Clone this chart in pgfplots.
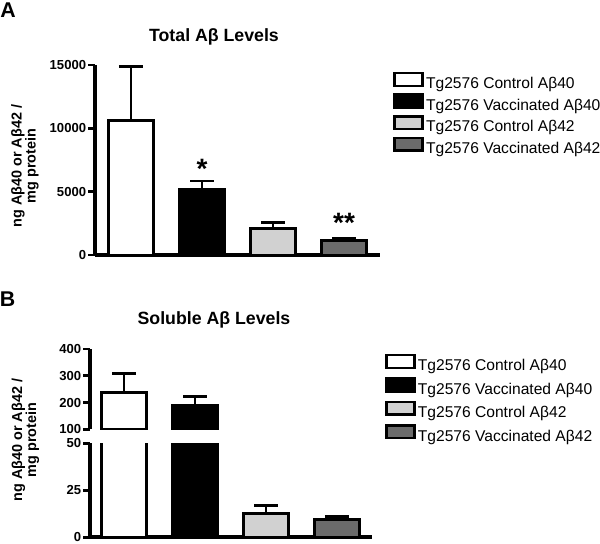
\documentclass[border=0pt]{standalone}
\usepackage{pgfplots}
\pgfplotsset{compat=1.18}
\usepackage{fontspec}
\setmainfont{Liberation Sans}

\definecolor{lightbar}{gray}{0.82}
\definecolor{darkbar}{gray}{0.42}

\pgfplotsset{
  panel/.style={
    scale only axis,
    axis x line=bottom,
    axis y line=left,
    axis line style={-, line width=2.8pt},
    xtick=\empty,
    tick align=outside,
    major tick length=5pt,
    ytick style={black, line width=2.2pt},
    yticklabel style={font=\bfseries\fontsize{9.8}{10}\selectfont, inner sep=1.5pt},
    /pgf/number format/assume math mode=true,
    scaled y ticks=false,
    /pgf/number format/1000 sep={},
    ybar, bar width=0.64,
    every axis plot/.append style={bar shift=0pt, line width=2.2pt, draw=black},
    error bars/y dir=plus, error bars/y explicit,
    error bars/error bar style={line width=2.2pt, black},
    error bars/error mark options={rotate=90, line width=2.2pt, black, mark size=9pt},
    legend image code/.code={\draw[##1, line width=2pt] (0pt,-0.8pt) rectangle (21pt,8.8pt);},
    legend cell align=left,
  },
  legbox/.style={
    draw=none, fill=none, inner sep=0pt,
    font=\fontsize{11.7}{12}\selectfont,
    nodes={inner sep=1.5pt, text height=8.5pt, text depth=2.5pt},
  },
}

\begin{document}
\begin{tikzpicture}
\useasboundingbox (0,0) rectangle (450pt,407.25pt);

% ---------- panel A ----------
\node[font=\bfseries\fontsize{16}{16}\selectfont] at (6pt,399.75pt) {A};
\node[font=\bfseries\fontsize{13.3}{14}\selectfont] at (160.5pt,379.5pt) {Total Aβ Levels};
\node[rotate=90, align=center, font=\bfseries\fontsize{10.8}{10.5}\selectfont]
  at (18.75pt,282.75pt) {ng Aβ40 or Aβ42 /\\mg protein};

\begin{axis}[panel,
  at={(71.25pt,216pt)}, anchor=south west,
  width=213.75pt, height=142.5pt,
  xmin=0.493, xmax=4.507,
  ymin=0, ymax=15000,
  ytick={0,5000,10000,15000},
  legend style={legbox, at={(axis description cs:1.046,0.966)}, anchor=north west, row sep=-0.6pt},
]
\addplot[fill=white]    coordinates {(1,10650) +- (0,4220)};
\addplot[fill=black]    coordinates {(2,5200)  +- (0,640)};
\addplot[fill=lightbar] coordinates {(3,2120)  +- (0,430)};
\addplot[fill=darkbar]  coordinates {(4,1180)  +- (0,160)};
\legend{Tg2576 Control Aβ40, Tg2576 Vaccinated Aβ40, Tg2576 Control Aβ42, Tg2576 Vaccinated Aβ42}
\node[anchor=north, inner sep=0pt, font=\bfseries\fontsize{21}{21}\selectfont] at (axis cs:2,7580) {*};
\node[anchor=north, inner sep=0pt, font=\bfseries\fontsize{21}{21}\selectfont] at (axis cs:4,3290) {**};
\end{axis}

% ---------- panel B ----------
\node[font=\bfseries\fontsize{16}{16}\selectfont] at (5.6pt,182.6pt) {B};
\node[font=\bfseries\fontsize{13.3}{14}\selectfont] at (160.5pt,167.25pt) {Soluble Aβ Levels};
\node[rotate=90, align=center, font=\bfseries\fontsize{10.8}{10.5}\selectfont]
  at (19.1pt,77.25pt) {ng Aβ40 or Aβ42 /\\mg protein};

% upper segment (100-400)
\begin{axis}[panel,
  at={(67.5pt,85.275pt)}, anchor=south west,
  width=211.5pt, height=60.2pt,
  axis x line=none,
  xmin=0.521, xmax=4.493,
  ymin=100, ymax=400,
  ytick={100,200,300,400},
]
\addplot[fill=white] coordinates {(1,237) +- (0,71)};
\addplot[fill=black] coordinates {(2,189) +- (0,33)};
\end{axis}

% lower segment (0-50)
\begin{axis}[panel,
  at={(67.5pt,4.275pt)}, anchor=south west,
  width=211.5pt, height=70.5pt,
  xmin=0.521, xmax=4.493,
  ymin=0, ymax=50,
  ytick={0,25,50},
  legend style={legbox, at={(axis description cs:1.046,1.955)}, anchor=north west, row sep=0.75pt},
]
\addplot[fill=white]    coordinates {(1,237)  +- (0,71)};
\addplot[fill=black]    coordinates {(2,189)  +- (0,33)};
\addplot[fill=lightbar] coordinates {(3,12.8) +- (0,4.0)};
\addplot[fill=darkbar]  coordinates {(4,9.3)  +- (0,2.0)};
\legend{Tg2576 Control Aβ40, Tg2576 Vaccinated Aβ40, Tg2576 Control Aβ42, Tg2576 Vaccinated Aβ42}
\end{axis}
\end{tikzpicture}
\end{document}
